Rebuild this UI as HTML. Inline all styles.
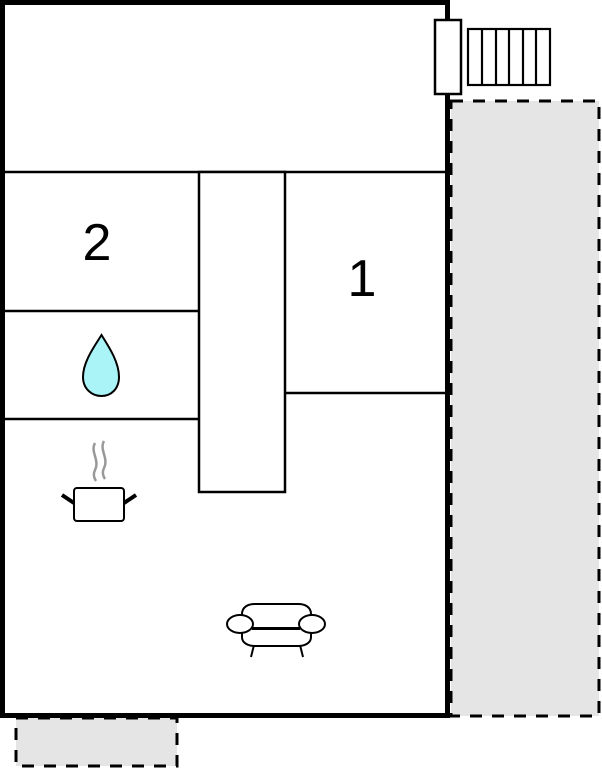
<!DOCTYPE html>
<html><head><style>html,body{margin:0;padding:0;background:#fff;width:602px;height:768px;overflow:hidden}</style></head>
<body>
<svg width="602" height="768" viewBox="0 0 602 768" xmlns="http://www.w3.org/2000/svg">
<rect x="451" y="101" width="148" height="615" fill="#e5e5e5" stroke="#000" stroke-width="3" stroke-dasharray="12,10"/>
<rect x="16" y="718" width="161" height="48" fill="#e5e5e5" stroke="#000" stroke-width="3" stroke-dasharray="12,10"/>
<rect x="2.5" y="2.5" width="445" height="713" fill="#fff" stroke="#000" stroke-width="5"/>
<g stroke="#000" stroke-width="2.5" fill="none">
<line x1="5" y1="172" x2="445" y2="172"/>
<rect x="199" y="172" width="86" height="320" fill="#fff"/>
<line x1="5" y1="311" x2="199" y2="311"/>
<line x1="5" y1="419" x2="199" y2="419"/>
<line x1="285" y1="393" x2="445" y2="393"/>
</g>
<rect x="435" y="20" width="26" height="74" fill="#fff" stroke="#000" stroke-width="2.5"/>
<g stroke="#000" stroke-width="2.2" fill="#fff">
<rect x="468" y="29" width="82" height="56"/>
<line x1="482" y1="29" x2="482" y2="85"/><line x1="496" y1="29" x2="496" y2="85"/><line x1="509" y1="29" x2="509" y2="85"/><line x1="523" y1="29" x2="523" y2="85"/><line x1="536" y1="29" x2="536" y2="85"/>
</g>
<text x="97" y="260" font-family="Liberation Sans, sans-serif" font-size="52" text-anchor="middle">2</text>
<text x="362" y="296" font-family="Liberation Sans, sans-serif" font-size="52" text-anchor="middle">1</text>
<path d="M101.5 335 C94 347 83 362 83 377 C83 389 92 396 101.5 396 C111 396 119 389 119 377 C119 362 109 347 101.5 335 Z" fill="#aaf4f8" stroke="#000" stroke-width="2"/>
<g stroke="#999" stroke-width="2.5" fill="none">
<path d="M95 443 C90 452 100 460 95 470 C93 474 94 478 96 481"/>
<path d="M104 441 C99 450 109 458 104 468 C102 472 103 476 105 479"/>
</g>
<rect x="74" y="488" width="50" height="33" rx="3" fill="#fff" stroke="#000" stroke-width="2"/>
<line x1="62" y1="495" x2="74" y2="503" stroke="#000" stroke-width="4"/>
<line x1="124" y1="503" x2="136" y2="495" stroke="#000" stroke-width="4"/>
<g stroke="#000" stroke-width="2" fill="#fff">
<line x1="254" y1="645" x2="251" y2="657"/><line x1="300" y1="645" x2="303" y2="657"/>
<path d="M242 627 L242 637 C242 643 248 646 255 646 L298 646 C305 646 311 643 311 637 L311 627 Z"/>
<path d="M242 628 L242 614 C242 607 248 604 255 604 L298 604 C305 604 311 607 311 614 L311 628 Z"/>
<ellipse cx="240" cy="624" rx="13" ry="9"/>
<ellipse cx="312" cy="624" rx="13" ry="9"/>
<line x1="252" y1="629" x2="300" y2="629"/>
</g>
</svg>
</body></html>
